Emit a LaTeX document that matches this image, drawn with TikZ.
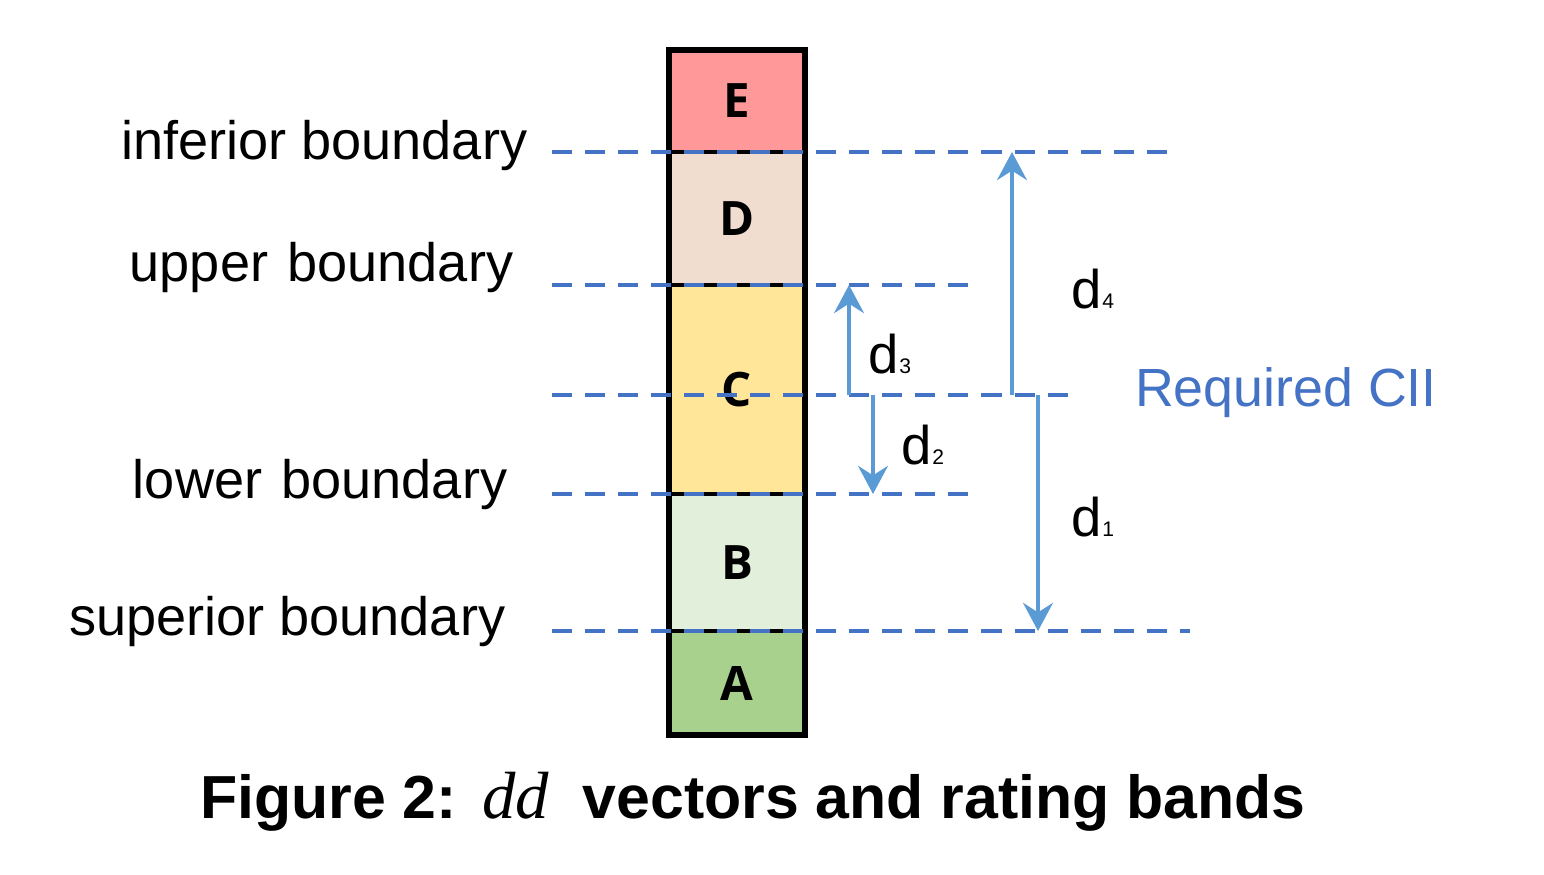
\documentclass[tikz,border=0pt]{standalone}
\usepackage{fontspec}
\setmainfont{Liberation Sans}
\newfontfamily\bandfont{Open Sans}
\newfontfamily\ddfont{Liberation Serif}
\usetikzlibrary{calc, arrows.meta}
\definecolor{bandE}{HTML}{FF9999}
\definecolor{bandD}{HTML}{F0DDCF}
\definecolor{bandC}{HTML}{FFE699}
\definecolor{bandB}{HTML}{E2EFDA}
\definecolor{bandA}{HTML}{A9D18E}
\definecolor{lineblue}{HTML}{4472C4}
\definecolor{vecblue}{HTML}{5B9BD5}
\newcommand{\dlab}[1]{d{\fontsize{6}{6}\selectfont #1}}

\begin{document}
\begin{tikzpicture}[scale=1,
  blueline/.style={draw=lineblue, line width=1.4pt, dash pattern=on 5.7pt off 3.7pt},
  vec/.style={draw=vecblue, line width=1.1pt, -{Stealth[length=8pt,width=8.5pt,inset=2.7pt]}},
  bound/.style={anchor=base east, inner sep=0pt, font=\fontsize{15.4}{18}\selectfont},
  dname/.style={font=\fontsize{15.5}{18}\selectfont}]
\useasboundingbox (0,0) rectangle (15.44,8.74);
% rating bands
\foreach \lo/\hi/\lab in {1.39/2.43/A, 2.43/3.80/B, 3.80/5.89/C, 5.89/7.22/D, 7.22/8.24/E}
{
\draw[line width=1.2pt, fill=band\lab] (6.69,\lo) rectangle (8.05,\hi);
\node (band\lab) at (7.37,{(\lo+\hi)/2}) {\bandfont\bfseries\fontsize{13.5}{15}\selectfont\lab};
}
\draw[line width=1.5pt] (6.69,1.39) rectangle (8.05,8.24);
% boundaries
\foreach \nm/\y/\xr in {inf/7.22/11.78, upp/5.89/9.75, req/4.79/10.80, low/3.80/9.75, sup/2.43/11.90}
{
\coordinate (\nm-l) at (5.52,\y);
\coordinate (\nm-r) at (\xr,\y);
\draw[blueline] (\nm-l) -- (\nm-r);
}
\node[bound] (infname) at (5.28,7.14) {inferior boundary};
\node[bound] (uppname) at (5.14,5.92) {upper\hspace{0.08em} boundary};
\node[bound] (lowname) at (5.08,3.75) {lower\hspace{0.08em} boundary};
\node[bound] (supname) at (5.06,2.39) {superior boundary};
\node[text=lineblue, font=\fontsize{15.3}{18}\selectfont] (reqname) at (12.86,4.81) {Required CII};
% dd vectors
\foreach \nm/\x/\to in {d4/10.12/inf, d3/8.49/upp, d2/8.73/low, d1/10.38/sup}
{
\coordinate (\nm-a) at (\x,0 |- req-l);
\coordinate (\nm-b) at (\x,0 |- \to-l);
\draw[vec] (\nm-a) -- (\nm-b);
}
\node[dname] (d4name) at (10.93,5.85) {\dlab{4}};
\node[dname] (d3name) at (8.90,5.20) {\dlab{3}};
\node[dname] (d2name) at (9.23,4.29) {\dlab{2}};
\node[dname] (d1name) at (10.93,3.57) {\dlab{1}};
\node[anchor=base] (caption) at (7.53,0.56) {\fontsize{17.3}{21}\selectfont\bfseries Figure 2:\hspace{0.42em}{\ddfont\mdseries\itshape\fontsize{19}{21}\selectfont dd}\hspace{0.55em}vectors and rating bands};
\end{tikzpicture}
\end{document}
